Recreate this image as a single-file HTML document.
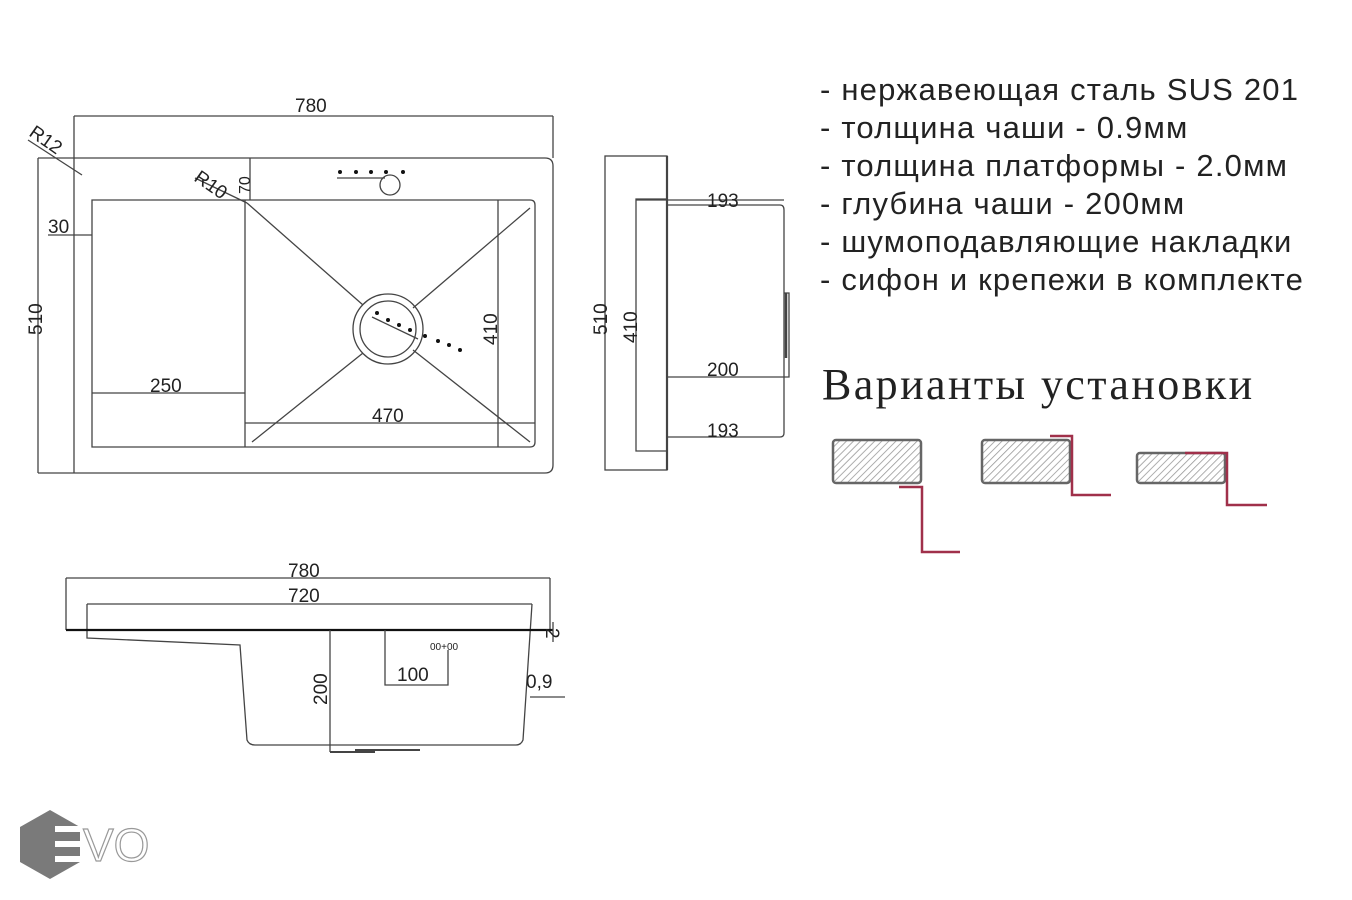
<!DOCTYPE html>
<html><head><meta charset="utf-8"><style>
html,body{margin:0;padding:0;background:#fff;}
svg{display:block}
</style></head><body>
<svg width="1352" height="900" viewBox="0 0 1352 900" xmlns="http://www.w3.org/2000/svg" font-family="Liberation Sans, sans-serif">
<defs>
<pattern id="h" width="5" height="5" patternUnits="userSpaceOnUse" patternTransform="rotate(45)">
<rect width="5" height="5" fill="#fff"/><line x1="0" y1="0" x2="0" y2="5" stroke="#999" stroke-width="1.6"/>
</pattern>
</defs>
<g fill="none" stroke="#444" stroke-width="1.3">
<line x1="74" y1="116" x2="553" y2="116"/>
<line x1="74" y1="116" x2="74" y2="473"/>
<line x1="553" y1="116" x2="553" y2="158"/>
<path d="M38 158 H545 Q553 158 553 166 V465 Q553 473 545 473 H38"/>
<line x1="38" y1="158" x2="38" y2="473"/>
<line x1="28" y1="140" x2="82" y2="175"/>
<path d="M92 200 H530 Q535 200 535 205 V442 Q535 447 530 447 H92 Z"/>
<line x1="245" y1="200" x2="245" y2="447"/>
<line x1="498" y1="200" x2="498" y2="447"/>
<line x1="245" y1="423" x2="535" y2="423"/>
<line x1="92" y1="393" x2="245" y2="393"/>
<line x1="48" y1="235" x2="92" y2="235"/>
<line x1="250" y1="158" x2="250" y2="200"/>
<line x1="195" y1="178" x2="247" y2="203"/>
<line x1="247" y1="203" x2="363" y2="305"/>
<line x1="530" y1="208" x2="413" y2="308"/>
<line x1="252" y1="442" x2="363" y2="353"/>
<line x1="530" y1="442" x2="413" y2="350"/>
<circle cx="388" cy="329" r="35"/>
<circle cx="388" cy="329" r="28"/>
<line x1="372" y1="317" x2="418" y2="339"/>
<line x1="337" y1="178" x2="385" y2="178"/>
<circle cx="390" cy="185" r="10"/>
<rect x="605" y="156" width="62" height="314"/>
<line x1="667" y1="156" x2="667" y2="470" stroke-width="2.2"/>
<path d="M667 199 H636 V451 H667"/>
<path d="M667 205 H780 Q784 205 784 210 V433 Q784 437 780 437 H667"/>
<line x1="636" y1="200" x2="784" y2="200"/>
<path d="M667 377 H789 V293 H784"/>
<line x1="786" y1="293" x2="786" y2="358" stroke-width="2.5"/>
<line x1="66" y1="578" x2="550" y2="578"/>
<line x1="66" y1="578" x2="66" y2="630"/>
<line x1="550" y1="578" x2="550" y2="630"/>
<line x1="87" y1="604" x2="532" y2="604"/>
<path d="M87 604 V638 L240 645 L247 740 Q249 745 255 745 H516 Q521 745 523 740 L532 604"/>
<line x1="66" y1="630" x2="553" y2="630" stroke="#111" stroke-width="2.2"/>
<line x1="553" y1="622" x2="553" y2="642"/>
<line x1="330" y1="630" x2="330" y2="752"/>
<path d="M385 630 V685 H448 V650"/>
<line x1="530" y1="697" x2="565" y2="697"/>
<path d="M330 752 H375 M355 750 H420" stroke-width="2"/>
</g>
<g fill="#111">
<circle cx="340" cy="172" r="2"/><circle cx="356" cy="172" r="2"/><circle cx="371" cy="172" r="2"/><circle cx="386" cy="172" r="2"/><circle cx="403" cy="172" r="2"/>
<circle cx="377" cy="313" r="2"/><circle cx="388" cy="320" r="2"/><circle cx="399" cy="325" r="2"/><circle cx="410" cy="330" r="2"/><circle cx="425" cy="336" r="2"/><circle cx="438" cy="341" r="2"/><circle cx="449" cy="345" r="2"/><circle cx="460" cy="350" r="2"/>
</g>
<g font-size="19" fill="#222">
<text x="295" y="112">780</text>
<text x="48" y="233">30</text>
<text x="150" y="392">250</text>
<text x="372" y="422">470</text>
<text transform="translate(497,345) rotate(-90)">410</text>
<text transform="translate(42,335) rotate(-90)">510</text>
<text transform="translate(28,135) rotate(35)">R12</text>
<text transform="translate(193,180) rotate(35)">R10</text>
<text transform="translate(250,194) rotate(-90)" font-size="16">70</text>
<text x="707" y="207">193</text>
<text x="707" y="376">200</text>
<text x="707" y="437">193</text>
<text transform="translate(607,335) rotate(-90)">510</text>
<text transform="translate(637,343) rotate(-90)">410</text>
<text x="288" y="577">780</text>
<text x="288" y="602">720</text>
<text x="397" y="681">100</text>
<text x="526" y="688">0,9</text>
<text transform="translate(546,628) rotate(90)">2</text>
<text transform="translate(327,705) rotate(-90)">200</text>
<text x="430" y="650" font-size="10">00+00</text>
</g>
<g font-size="31" fill="#222" letter-spacing="1.2">
<text x="820" y="100">- нержавеющая сталь SUS 201</text>
<text x="820" y="138">- толщина чаши - 0.9мм</text>
<text x="820" y="176">- толщина платформы - 2.0мм</text>
<text x="820" y="214">- глубина чаши - 200мм</text>
<text x="820" y="252">- шумоподавляющие накладки</text>
<text x="820" y="290">- сифон и крепежи в комплекте</text>
</g>
<text x="822" y="399" font-family="Liberation Serif, serif" font-size="44" letter-spacing="2.4" fill="#222">Варианты установки</text>
<g stroke="#666" stroke-width="2.5" fill="url(#h)">
<rect x="833" y="440" width="88" height="43" rx="3"/>
<rect x="982" y="440" width="88" height="43" rx="3"/>
<rect x="1137" y="453" width="88" height="30" rx="3"/>
</g>
<g stroke="#a0304a" stroke-width="2.5" fill="none">
<path d="M899 487 H922 V552 H960"/>
<path d="M1050 436 H1072 V495 H1111"/>
<path d="M1185 453 H1227 V505 H1267"/>
</g>
<polygon points="50,810 80,827 80,862 50,879 20,862 20,827" fill="#7a7a7a"/>
<g fill="#fff"><rect x="55" y="826" width="30" height="6"/><rect x="55" y="841" width="30" height="6"/><rect x="55" y="856" width="30" height="6"/></g>
<text x="83" y="861" font-size="46" fill="#fff" stroke="#999" stroke-width="1.2">VO</text>
</svg>
</body></html>
